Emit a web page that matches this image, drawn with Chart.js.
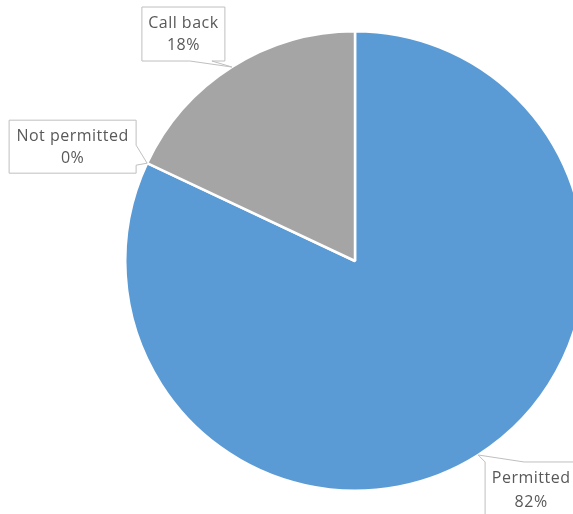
<!DOCTYPE html>
<html>
<head>
<meta charset="utf-8">
<script src="https://cdn.jsdelivr.net/npm/chart.js@4/dist/chart.umd.min.js"></script>
<style>
  html, body { margin: 0; padding: 0; background: #fff; overflow: hidden; }
  #wrap { position: absolute; left: 0; top: 0; width: 710px; height: 514px; }
</style>
</head>
<body>
<div id="wrap"><canvas id="pieChart"></canvas></div>
<script>
// Data
const categories = ['Permitted', 'Not permitted', 'Call back'];
const shares = [82, 0, 18];
const sliceColors = ['#5B9BD5', '#ED7D31', '#A5A5A5'];

// callout placement per slice, relative to the point on the pie edge
const callouts = [
  { dx: 7, dy: 7, w: 92, h: 56, side: 'top', p0: 0, p1: 39 },
  { dx: -138, dy: -43, w: 127, h: 53, side: 'right', p0: 25, p1: 45 },
  { dx: -90, dy: -60, w: 83, h: 54, side: 'bottom', p0: 48, p1: 70 },
];

const calloutPlugin = {
  id: 'callouts',
  afterDatasetsDraw(chart) {
    const ctx = chart.ctx;
    const arcs = chart.getDatasetMeta(0).data;
    arcs.forEach((arc, i) => {
      const c = callouts[i];
      const a = shares[i] === 0 ? arc.startAngle : (arc.startAngle + arc.endAngle) / 2;
      const tx = arc.x + arc.outerRadius * Math.cos(a);
      const ty = arc.y + arc.outerRadius * Math.sin(a);
      const L = tx + c.dx, T = ty + c.dy, R = L + c.w, B = T + c.h;

      ctx.save();
      ctx.beginPath();
      ctx.moveTo(L, T);
      if (c.side === 'top') {
        ctx.lineTo(L + c.p0, T);
        ctx.lineTo(tx, ty);
        ctx.lineTo(L + c.p1, T);
      }
      ctx.lineTo(R, T);
      if (c.side === 'right') {
        ctx.lineTo(R, T + c.p0);
        ctx.lineTo(tx, ty);
        ctx.lineTo(R, T + c.p1);
      }
      ctx.lineTo(R, B);
      if (c.side === 'bottom') {
        ctx.lineTo(L + c.p1, B);
        ctx.lineTo(tx, ty);
        ctx.lineTo(L + c.p0, B);
      }
      ctx.lineTo(L, B);
      ctx.closePath();
      ctx.fillStyle = '#fff';
      ctx.fill();
      ctx.strokeStyle = '#BFBFBF';
      ctx.lineWidth = 1;
      ctx.stroke();

      ctx.fillStyle = '#595959';
      ctx.font = '16px "Open Sans"';
      ctx.letterSpacing = '0.5px';
      ctx.textAlign = 'center';
      ctx.textBaseline = 'middle';
      const cx = (L + R) / 2;
      ctx.fillText(categories[i], cx, T + c.h * 0.3);
      ctx.fillText(shares[i] + '%', cx, T + c.h * 0.72);
      ctx.restore();
    });
  }
};

new Chart(document.getElementById('pieChart'), {
  type: 'pie',
  data: {
    labels: categories,
    datasets: [{
      data: shares,
      backgroundColor: sliceColors,
      borderColor: '#fff',
      borderWidth: 2.5,
    }],
  },
  options: {
    responsive: true,
    maintainAspectRatio: false,
    animation: false,
    layout: { padding: { top: 30, bottom: 22 } },
    plugins: {
      legend: { display: false },
      tooltip: { enabled: false },
    },
  },
  plugins: [calloutPlugin],
});
</script>
</body>
</html>
